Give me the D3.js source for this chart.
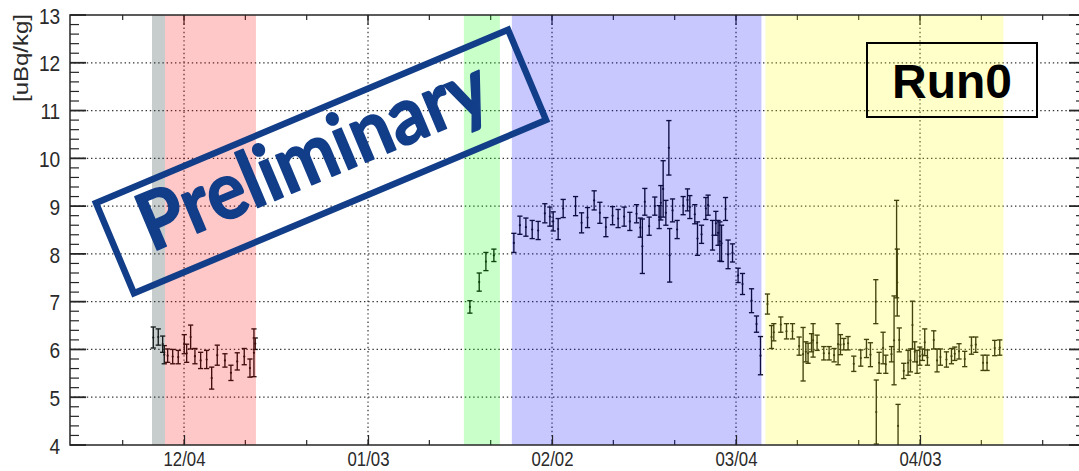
<!DOCTYPE html>
<html>
<head>
<meta charset="utf-8">
<script src="https://cdn.jsdelivr.net/npm/d3@7"></script>
<style>
  html, body { margin: 0; padding: 0; background: #fff; }
  svg { display: block; }
  .tick-label { font-family: "Liberation Sans", Arial, sans-serif; fill: #2a2a2a; }
</style>
</head>
<body>
<svg id="chart" width="1079" height="471"></svg>
<script>
// Measurement times, in days counted from 2018-12-01 00:00
const obsDay = [
  -2.01, -1.20, -0.48, -0.22, 0.33, 1.15, 2.06, 3.04, 3.43, 4.08, 4.78, 5.71, 6.69, 7.51, 8.42, 9.67, 10.65, 11.68, 12.82, 13.75, 14.40, 14.61,
  49.61, 51.13, 52.22, 53.52,
  56.78, 57.76, 58.74, 59.77, 60.74, 61.83, 62.65, 63.19, 64.00, 64.82, 66.84, 67.82, 68.79, 69.87, 70.80, 71.78, 72.87, 73.78, 74.76, 75.69,
  76.78, 77.40, 77.73, 78.13, 78.84, 79.76, 80.47, 80.74, 81.12, 81.56, 82.05, 82.18, 82.65, 83.40, 84.38, 85.09, 85.47, 86.28, 86.72, 87.38,
  88.08, 88.45, 89.17, 89.71, 90.08, 90.36, 90.64, 91.29, 91.71, 92.43, 93.34, 94.06, 95.53, 96.34, 96.99,
  98.13, 98.79, 99.16, 100.30, 101.23, 102.21, 103.29, 103.94, 104.38, 104.75, 105.31, 105.57, 106.22, 107.31, 108.18, 108.99, 109.64, 110.03,
  110.57, 111.27, 112.20, 113.34, 114.27, 114.92, 115.79, 115.87, 116.33, 116.98, 117.42, 118.35, 118.77, 119.18, 119.29, 119.42, 119.62,
  120.35, 121.05, 121.44, 121.77, 122.14, 122.52, 122.96, 123.40, 123.77, 124.21, 125.24, 125.78, 126.33, 127.31, 128.13, 128.66, 129.36,
  130.29, 131.39, 132.09, 133.28, 133.93, 135.18, 136.00
];

// Measured activity [uBq/kg]
const obsValue = [
  6.25, 6.26, 6.11, 5.89, 5.87, 5.85, 5.84, 6.11, 5.92, 6.26, 5.86, 5.77, 5.79, 5.40, 5.88, 5.77, 5.51, 5.75, 5.85, 5.61, 5.93, 6.12,
  6.89, 7.41, 7.84, 7.97,
  8.23, 8.60, 8.56, 8.51, 8.49, 8.85, 8.78, 8.68, 8.52, 8.95, 9.00, 8.65, 8.76, 9.12, 8.86, 8.56, 8.80, 8.74, 8.78, 8.68,
  8.84, 8.55, 8.16, 9.09, 8.58, 9.00, 8.77, 9.07, 9.36, 8.86, 10.22, 7.97, 8.91, 8.51, 9.01, 9.13, 8.98, 8.83, 8.32, 8.41,
  8.95, 9.02, 8.39, 8.64, 8.44, 8.26, 8.22, 8.94, 7.99, 8.02, 7.55, 7.37, 7.02, 6.53, 5.87,
  6.95, 6.26, 6.36, 6.52, 6.38, 6.38, 6.07, 5.90, 5.95, 5.92, 6.14, 6.19, 6.14, 5.92, 5.92, 5.88, 6.11, 6.10,
  6.11, 6.13, 5.70, 5.82, 6.02, 5.89, 7.00, 4.69, 5.72, 6.03, 5.69, 5.90, 6.19, 8.10, 7.40, 4.40, 6.20,
  5.55, 5.72, 5.77, 6.51, 5.95, 5.74, 5.86, 5.89, 6.15, 5.83, 6.20, 5.77, 5.84, 5.79, 5.86, 5.91, 5.96,
  5.80, 6.08, 6.10, 5.72, 5.72, 6.03, 6.04
];

// One-sigma uncertainty [uBq/kg]
const obsError = [
  0.22, 0.17, 0.17, 0.19, 0.14, 0.15, 0.14, 0.20, 0.19, 0.25, 0.16, 0.17, 0.19, 0.23, 0.21, 0.14, 0.16, 0.18, 0.17, 0.19, 0.50, 0.12,
  0.13, 0.19, 0.19, 0.13,
  0.20, 0.19, 0.19, 0.19, 0.19, 0.20, 0.20, 0.20, 0.22, 0.19, 0.20, 0.21, 0.21, 0.20, 0.22, 0.20, 0.19, 0.19, 0.20, 0.19,
  0.19, 0.20, 0.57, 0.28, 0.19, 0.19, 0.24, 0.36, 0.59, 0.26, 0.57, 0.56, 0.24, 0.19, 0.19, 0.23, 0.24, 0.20, 0.35, 0.19,
  0.23, 0.21, 0.31, 0.25, 0.26, 0.41, 0.38, 0.24, 0.30, 0.19, 0.15, 0.22, 0.25, 0.17, 0.40,
  0.21, 0.24, 0.18, 0.16, 0.16, 0.16, 0.19, 0.56, 0.21, 0.21, 0.19, 0.35, 0.16, 0.14, 0.14, 0.14, 0.43, 0.21,
  0.12, 0.14, 0.16, 0.17, 0.19, 0.25, 0.46, 0.67, 0.22, 0.33, 0.19, 0.16, 0.93, 1.02, 0.70, 0.45, 0.25,
  0.16, 0.26, 0.24, 0.50, 0.21, 0.24, 0.19, 0.12, 0.28, 0.16, 0.19, 0.24, 0.17, 0.16, 0.16, 0.14, 0.16,
  0.16, 0.18, 0.16, 0.16, 0.16, 0.16, 0.16
];

// Operating periods (same day counting as above)
const periodStart = [-2.22, -0.11, 48.63, 56.45, 97.80];
const periodEnd   = [-0.11, 14.73, 54.50, 97.15, 136.60];

// Axis ticks
const xTickDates = ["2018-12-04", "2019-01-03", "2019-02-02", "2019-03-04", "2019-04-03"];
const yTickValues = [4, 5, 6, 7, 8, 9, 10, 11, 12, 13];

// ---- styling ----
const periodFill = ["rgb(40,60,60)", "rgb(255,0,0)", "rgb(0,255,0)", "rgb(0,0,255)", "rgb(255,255,0)"];
const periodOpacity = [0.26, 0.215, 0.21, 0.215, 0.21];

const svg = d3.select("#chart");
const W = 1079, H = 471;
const plot = { left: 70, right: 1085, top: 15, bottom: 445 };

const origin = new Date(2018, 11, 1);
const toDate = d => new Date(origin.getTime() + d * 864e5);
const parseDay = d3.timeParse("%Y-%m-%d");

const x = d3.scaleTime()
  .domain([toDate(-15.59), toDate(149.9)])
  .range([plot.left, plot.right]);
const y = d3.scaleLinear()
  .domain([4, 13])
  .range([plot.bottom, plot.top]);

svg.append("rect").attr("width", W).attr("height", H).attr("fill", "#fff");

const defs = svg.append("defs");
defs.append("clipPath").attr("id", "plot-clip")
  .append("rect")
  .attr("x", plot.left).attr("y", plot.top)
  .attr("width", plot.right - plot.left).attr("height", plot.bottom - plot.top);

const majorDates = xTickDates.map(parseDay);
const minorDates = d3.range(-7, 150, 10).map(toDate);

// dotted grid
const grid = svg.append("g").attr("clip-path", "url(#plot-clip)")
  .attr("stroke", "#333").attr("stroke-width", 1.2)
  .attr("stroke-dasharray", "1.4,2.8").attr("fill", "none");
grid.selectAll("line.h")
  .data(yTickValues.filter(v => v > 4 && v < 13))
  .join("line").attr("class", "h")
  .attr("x1", plot.left).attr("x2", plot.right)
  .attr("y1", d => y(d)).attr("y2", d => y(d));
grid.selectAll("line.v")
  .data(majorDates)
  .join("line").attr("class", "v")
  .attr("x1", d => x(d)).attr("x2", d => x(d))
  .attr("y1", plot.top).attr("y2", plot.bottom);

// error bars
const points = obsDay.map((d, i) => ({ t: toDate(d), v: obsValue[i], e: obsError[i] }));
const bars = svg.append("g").attr("clip-path", "url(#plot-clip)")
  .attr("stroke", "#111").attr("stroke-width", 1.35).attr("fill", "none");
const cap = 2.6;
const eb = bars.selectAll("g").data(points).join("g");
eb.append("line")
  .attr("x1", d => x(d.t)).attr("x2", d => x(d.t))
  .attr("y1", d => y(d.v - d.e)).attr("y2", d => y(d.v + d.e));
eb.append("line")
  .attr("x1", d => x(d.t) - cap).attr("x2", d => x(d.t) + cap)
  .attr("y1", d => y(d.v + d.e)).attr("y2", d => y(d.v + d.e));
eb.append("line")
  .attr("x1", d => x(d.t) - cap).attr("x2", d => x(d.t) + cap)
  .attr("y1", d => y(d.v - d.e)).attr("y2", d => y(d.v - d.e));
bars.selectAll("circle").data(points).join("circle")
  .attr("cx", d => x(d.t)).attr("cy", d => y(d.v)).attr("r", 1.1)
  .attr("fill", "#111").attr("stroke", "none");

// minor ticks on all four sides
const ticks = svg.append("g").attr("stroke", "#262626").attr("stroke-width", 1.2);
minorDates.forEach(d => {
  const xx = x(d);
  if (xx <= plot.left || xx >= plot.right) return;
  ticks.append("line").attr("x1", xx).attr("x2", xx).attr("y1", plot.bottom).attr("y2", plot.bottom - 5);
  ticks.append("line").attr("x1", xx).attr("x2", xx).attr("y1", plot.top).attr("y2", plot.top + 5);
});
d3.range(4, 13.01, 0.2).forEach(v => {
  const major = Math.abs(v - Math.round(v)) < 1e-6;
  const len = major ? 16 : 9;
  const yy = y(v);
  ticks.append("line").attr("x1", plot.left).attr("x2", plot.left + len).attr("y1", yy).attr("y2", yy)
    .attr("stroke-width", major ? 1.8 : 1.2);
  ticks.append("line").attr("x1", plot.right - len).attr("x2", plot.right).attr("y1", yy).attr("y2", yy)
    .attr("stroke-width", major ? 1.8 : 1.2);
});

// shaded operating periods, laid over the data
svg.append("g").selectAll("rect")
  .data(periodStart.map((s, i) => ({ s, e: periodEnd[i], i })))
  .join("rect")
  .attr("x", d => x(toDate(d.s)))
  .attr("width", d => x(toDate(d.e)) - x(toDate(d.s)))
  .attr("y", plot.top).attr("height", plot.bottom - plot.top)
  .attr("fill", d => periodFill[d.i])
  .attr("fill-opacity", d => periodOpacity[d.i]);

// x axis (major ticks point inwards)
const xAxis = svg.append("g")
  .attr("transform", `translate(0,${plot.bottom})`)
  .call(d3.axisBottom(x).tickValues(majorDates)
    .tickFormat(d3.timeFormat("%m/%d"))
    .tickSizeInner(-10).tickSizeOuter(0));
xAxis.select(".domain").remove();
xAxis.selectAll(".tick line").attr("stroke", "#262626").attr("stroke-width", 1.2);
xAxis.selectAll(".tick text")
  .attr("class", "tick-label")
  .attr("y", 21.5).attr("dy", null)
  .attr("transform", "scale(0.8,1)")
  .style("font-size", "21px");

// top x axis ticks
majorDates.forEach(d => {
  ticks.append("line").attr("x1", x(d)).attr("x2", x(d)).attr("y1", plot.top).attr("y2", plot.top + 10);
});

// y axis labels
const yAxis = svg.append("g")
  .attr("transform", `translate(${plot.left},0)`)
  .call(d3.axisLeft(y).tickValues(yTickValues).tickFormat(d3.format("d"))
    .tickSize(0).tickPadding(0));
yAxis.select(".domain").remove();
yAxis.selectAll(".tick text")
  .attr("class", "tick-label")
  .attr("x", -11.5).attr("dy", "0.36em")
  .attr("transform", "scale(0.85,1)")
  .style("font-size", "22.5px");

// frame
svg.append("rect")
  .attr("x", plot.left).attr("y", plot.top)
  .attr("width", plot.right - plot.left).attr("height", plot.bottom - plot.top)
  .attr("fill", "none").attr("stroke", "#262626").attr("stroke-width", 1.5);

// y axis title
svg.append("text")
  .attr("class", "tick-label")
  .attr("transform", "translate(28,58) scale(0.85,1) rotate(-90)")
  .attr("text-anchor", "middle")
  .style("font-size", "24px")
  .text("[uBq/kg]");

// run label
svg.append("rect")
  .attr("x", 867).attr("y", 43).attr("width", 170).attr("height", 74)
  .attr("fill", "none").attr("stroke", "#000").attr("stroke-width", 2);
svg.append("text")
  .attr("x", 952).attr("y", 98)
  .attr("text-anchor", "middle")
  .style("font-family", "'Liberation Sans', Arial, sans-serif")
  .style("font-weight", "bold")
  .style("font-size", "48px")
  .attr("fill", "#000")
  .text("Run0");

// stamp
const stampColor = "#123d88";
const stamp = svg.append("g").attr("transform", "translate(321,161.5) rotate(-22.8)");
stamp.append("rect")
  .attr("x", -223.5).attr("y", -49).attr("width", 447).attr("height", 98)
  .attr("fill", "none").attr("stroke", stampColor).attr("stroke-width", 6.5);
const stampText = stamp.append("text")
  .attr("x", -5).attr("y", 18)
  .attr("text-anchor", "middle")
  .style("font-family", "Lato, 'Open Sans', sans-serif")
  .style("font-weight", "bold")
  .style("font-size", "70px")
  .attr("fill", stampColor)
  .attr("stroke", stampColor)
  .attr("stroke-width", 1.6)
  .attr("stroke-linejoin", "round")
  .text("Preliminary");
const len = stampText.node().getComputedTextLength();
if (len > 0) {
  // keep the word at its width while letting the glyphs run a little taller
  const fs = 70 * 372 / len / 0.92;
  stampText.style("font-size", fs.toFixed(1) + "px")
    .attr("transform", "scale(0.92,1)")
    .attr("x", -5 / 0.92);
}
</script>
</body>
</html>
